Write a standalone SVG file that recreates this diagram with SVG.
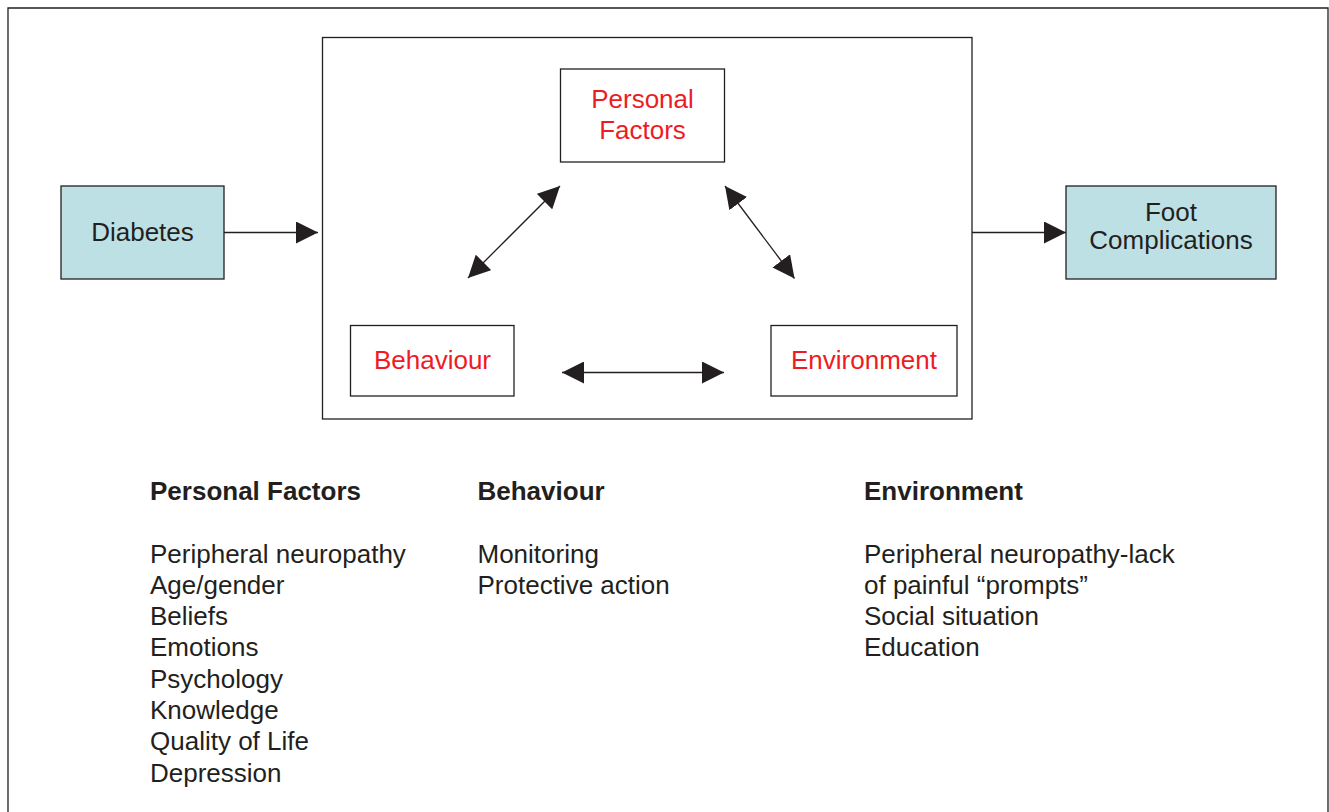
<svg xmlns="http://www.w3.org/2000/svg" width="1329" height="812" viewBox="0 0 1329 812">
  <style>
    .frame { fill: none; stroke: #231f20; stroke-width: 1.3; }
    .box { fill: #ffffff; stroke: #231f20; stroke-width: 1.3; }
    .cyan { fill: #bde0e4; stroke: #231f20; stroke-width: 1.3; }
    .lbl { font-family: "Liberation Sans", Arial, sans-serif; font-size: 26px; fill: #231f20; }
    .red { fill: #ed1c24; }
    .mid { text-anchor: middle; }
    .bold { font-weight: bold; }
    .conn { stroke: #231f20; stroke-width: 1.3; fill: none; }
  </style>
  <defs>
    <marker id="head" markerUnits="userSpaceOnUse" markerWidth="22" markerHeight="22" viewBox="0 0 20 20" refX="20" refY="10" orient="auto-start-reverse">
      <path d="M0,0 L20,10 L0,20 Z" fill="#231f20"/>
    </marker>
  </defs>

  <rect width="1329" height="812" fill="#ffffff"/>

  <!-- outer frame, open at the bottom -->
  <path class="frame" d="M8,812 V8 H1328 V812"/>

  <!-- model container -->
  <rect id="model" class="frame" x="322.5" y="37.5" width="649.5" height="381.5"/>

  <g id="diabetes">
    <rect class="cyan" x="61" y="186" width="163" height="93"/>
    <text class="lbl mid" x="142.5" y="241">Diabetes</text>
  </g>

  <g id="personal-factors">
    <rect class="box" x="560.5" y="69" width="164" height="93"/>
    <text class="lbl red mid" x="642.5" y="108">Personal</text>
    <text class="lbl red mid" x="642.5" y="139">Factors</text>
  </g>

  <g id="behaviour">
    <rect class="box" x="350.5" y="325.5" width="163.5" height="70.5"/>
    <text class="lbl red mid" x="432.5" y="369">Behaviour</text>
  </g>

  <g id="environment">
    <rect class="box" x="771" y="325.5" width="186" height="70.5"/>
    <text class="lbl red mid" x="864" y="369">Environment</text>
  </g>

  <g id="foot-complications">
    <rect class="cyan" x="1066" y="186" width="210" height="93"/>
    <text class="lbl mid" x="1171" y="220.5">Foot</text>
    <text class="lbl mid" x="1171" y="249">Complications</text>
  </g>

  <g id="connectors">
    <line class="conn" x1="224" y1="232.5" x2="318" y2="232.5" marker-end="url(#head)"/>
    <line class="conn" x1="972" y1="232.5" x2="1066" y2="232.5" marker-end="url(#head)"/>
    <line class="conn" x1="560" y1="186" x2="468" y2="278" marker-start="url(#head)" marker-end="url(#head)"/>
    <line class="conn" x1="725" y1="186" x2="794.5" y2="278.5" marker-start="url(#head)" marker-end="url(#head)"/>
    <line class="conn" x1="562" y1="372.5" x2="724" y2="372.5" marker-start="url(#head)" marker-end="url(#head)"/>
  </g>

  <g id="legend-personal">
    <text class="lbl bold" x="150" y="500">Personal Factors</text>
    <text class="lbl" x="150" y="562.5">Peripheral neuropathy</text>
    <text class="lbl" x="150" y="593.8">Age/gender</text>
    <text class="lbl" x="150" y="625.1">Beliefs</text>
    <text class="lbl" x="150" y="656.4">Emotions</text>
    <text class="lbl" x="150" y="687.7">Psychology</text>
    <text class="lbl" x="150" y="719">Knowledge</text>
    <text class="lbl" x="150" y="750.3">Quality of Life</text>
    <text class="lbl" x="150" y="781.6">Depression</text>
  </g>

  <g id="legend-behaviour">
    <text class="lbl bold" x="477.5" y="500">Behaviour</text>
    <text class="lbl" x="477.5" y="562.5">Monitoring</text>
    <text class="lbl" x="477.5" y="593.8">Protective action</text>
  </g>

  <g id="legend-environment">
    <text class="lbl bold" x="864" y="500">Environment</text>
    <text class="lbl" x="864" y="562.5">Peripheral neuropathy-lack</text>
    <text class="lbl" x="864" y="593.8">of painful “prompts”</text>
    <text class="lbl" x="864" y="625.1">Social situation</text>
    <text class="lbl" x="864" y="656.4">Education</text>
  </g>
</svg>
